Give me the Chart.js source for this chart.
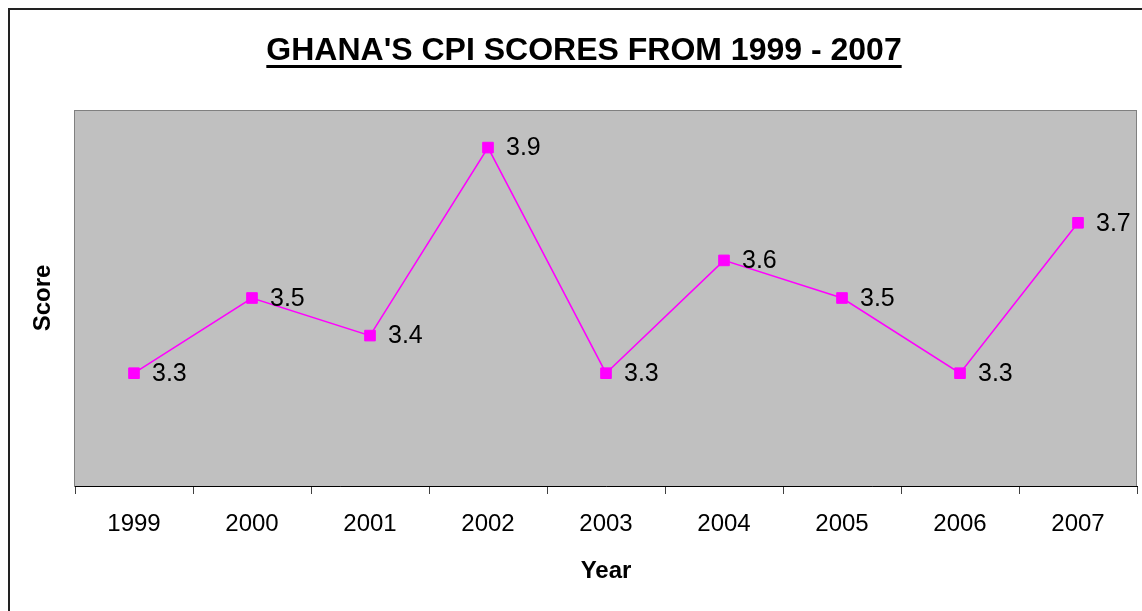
<!DOCTYPE html>
<html>
<head>
<meta charset="utf-8">
<script src="https://cdn.jsdelivr.net/npm/chart.js@4/dist/chart.umd.min.js"></script>
<style>
  html, body { margin: 0; padding: 0; background: #fff; }
  #wrap { width: 1142px; height: 611px; }
</style>
</head>
<body>
<div id="wrap"><canvas id="myChart1" width="1142" height="611"></canvas></div>
<script>
// chart data
const years = ['1999', '2000', '2001', '2002', '2003', '2004', '2005', '2006', '2007'];
const scores = [3.3, 3.5, 3.4, 3.9, 3.3, 3.6, 3.5, 3.3, 3.7];
const chartTitle = "GHANA'S CPI SCORES FROM 1999 - 2007";

const FONT = "'Liberation Sans', Arial, sans-serif";

// gray plot area, outer frame and underlined title
const framePlugin = {
    id: 'frame',
    beforeDraw(chart) {
        const ctx = chart.ctx;
        const a = chart.chartArea;
        ctx.save();
        ctx.fillStyle = '#fff';
        ctx.fillRect(0, 0, chart.width, chart.height);
        ctx.strokeStyle = '#222';
        ctx.lineWidth = 2;
        ctx.strokeRect(9, 9, chart.width + 20, chart.height + 20);
        ctx.fillStyle = '#c0c0c0';
        ctx.fillRect(a.left, a.top, a.right - a.left, a.bottom - a.top);
        ctx.strokeStyle = '#808080';
        ctx.lineWidth = 1;
        ctx.strokeRect(a.left - 0.5, a.top + 0.5, a.right - a.left, a.bottom - a.top);
        // title
        ctx.fillStyle = '#000';
        ctx.font = 'bold 32px ' + FONT;
        ctx.textAlign = 'center';
        ctx.textBaseline = 'middle';
        const cx = 584;
        ctx.fillText(chartTitle, cx, 51);
        const w = ctx.measureText(chartTitle).width;
        ctx.fillRect(cx - w / 2, 65, w, 3);
        ctx.restore();
    },
    afterDatasetsDraw(chart) {
        const ctx = chart.ctx;
        const meta = chart.getDatasetMeta(0);
        ctx.save();
        ctx.fillStyle = '#000';
        ctx.font = '25px ' + FONT;
        ctx.textAlign = 'left';
        ctx.textBaseline = 'middle';
        meta.data.forEach((pt, i) => {
            ctx.fillText(String(scores[i]), pt.x + 18, pt.y + 1);
        });
        ctx.restore();
    }
};

var ctx = document.getElementById('myChart1').getContext('2d');
var chart = new Chart(ctx, {
    type: 'line',
    data: {
        labels: years,
        datasets: [{
            label: 'Score',
            data: scores,
            borderColor: '#ff00ff',
            backgroundColor: '#ff00ff',
            borderWidth: 1.5,
            pointStyle: 'rect',
            pointRadius: 7.5,
            pointBorderWidth: 1,
            pointBorderColor: '#ff00ff',
            tension: 0,
            clip: false
        }]
    },
    plugins: [framePlugin],
    options: {
        responsive: false,
        animation: false,
        layout: { autoPadding: false, padding: { top: 110, right: 5, left: 0, bottom: 0 } },
        plugins: {
            legend: { display: false },
            title: { display: false },
            tooltip: { enabled: false }
        },
        scales: {
            x: {
                offset: true,
                grid: {
                    offset: true,
                    drawOnChartArea: false,
                    drawTicks: true,
                    tickLength: 8,
                    color: '#404040'
                },
                border: { display: true, color: '#000', width: 1 },
                ticks: {
                    color: '#000',
                    font: { family: FONT, size: 24 },
                    padding: 16,
                    maxRotation: 0,
                    autoSkip: false
                },
                title: {
                    display: true,
                    text: 'Year',
                    color: '#000',
                    font: { family: FONT, size: 24, weight: 'bold' },
                    padding: { top: 0, bottom: 25 }
                },
                afterFit(scale) {
                    scale.height = 125;
                    scale.paddingRight = 0;
                    scale.paddingLeft = 0;
                }
            },
            y: {
                min: 3,
                max: 4,
                grid: { display: false },
                border: { display: false },
                ticks: { display: false },
                title: {
                    display: true,
                    text: 'Score',
                    color: '#000',
                    font: { family: FONT, size: 24, weight: 'bold' },
                    padding: { top: 29, bottom: 0 }
                },
                afterFit(scale) { scale.width = 75; }
            }
        }
    }
});
</script>
</body>
</html>
